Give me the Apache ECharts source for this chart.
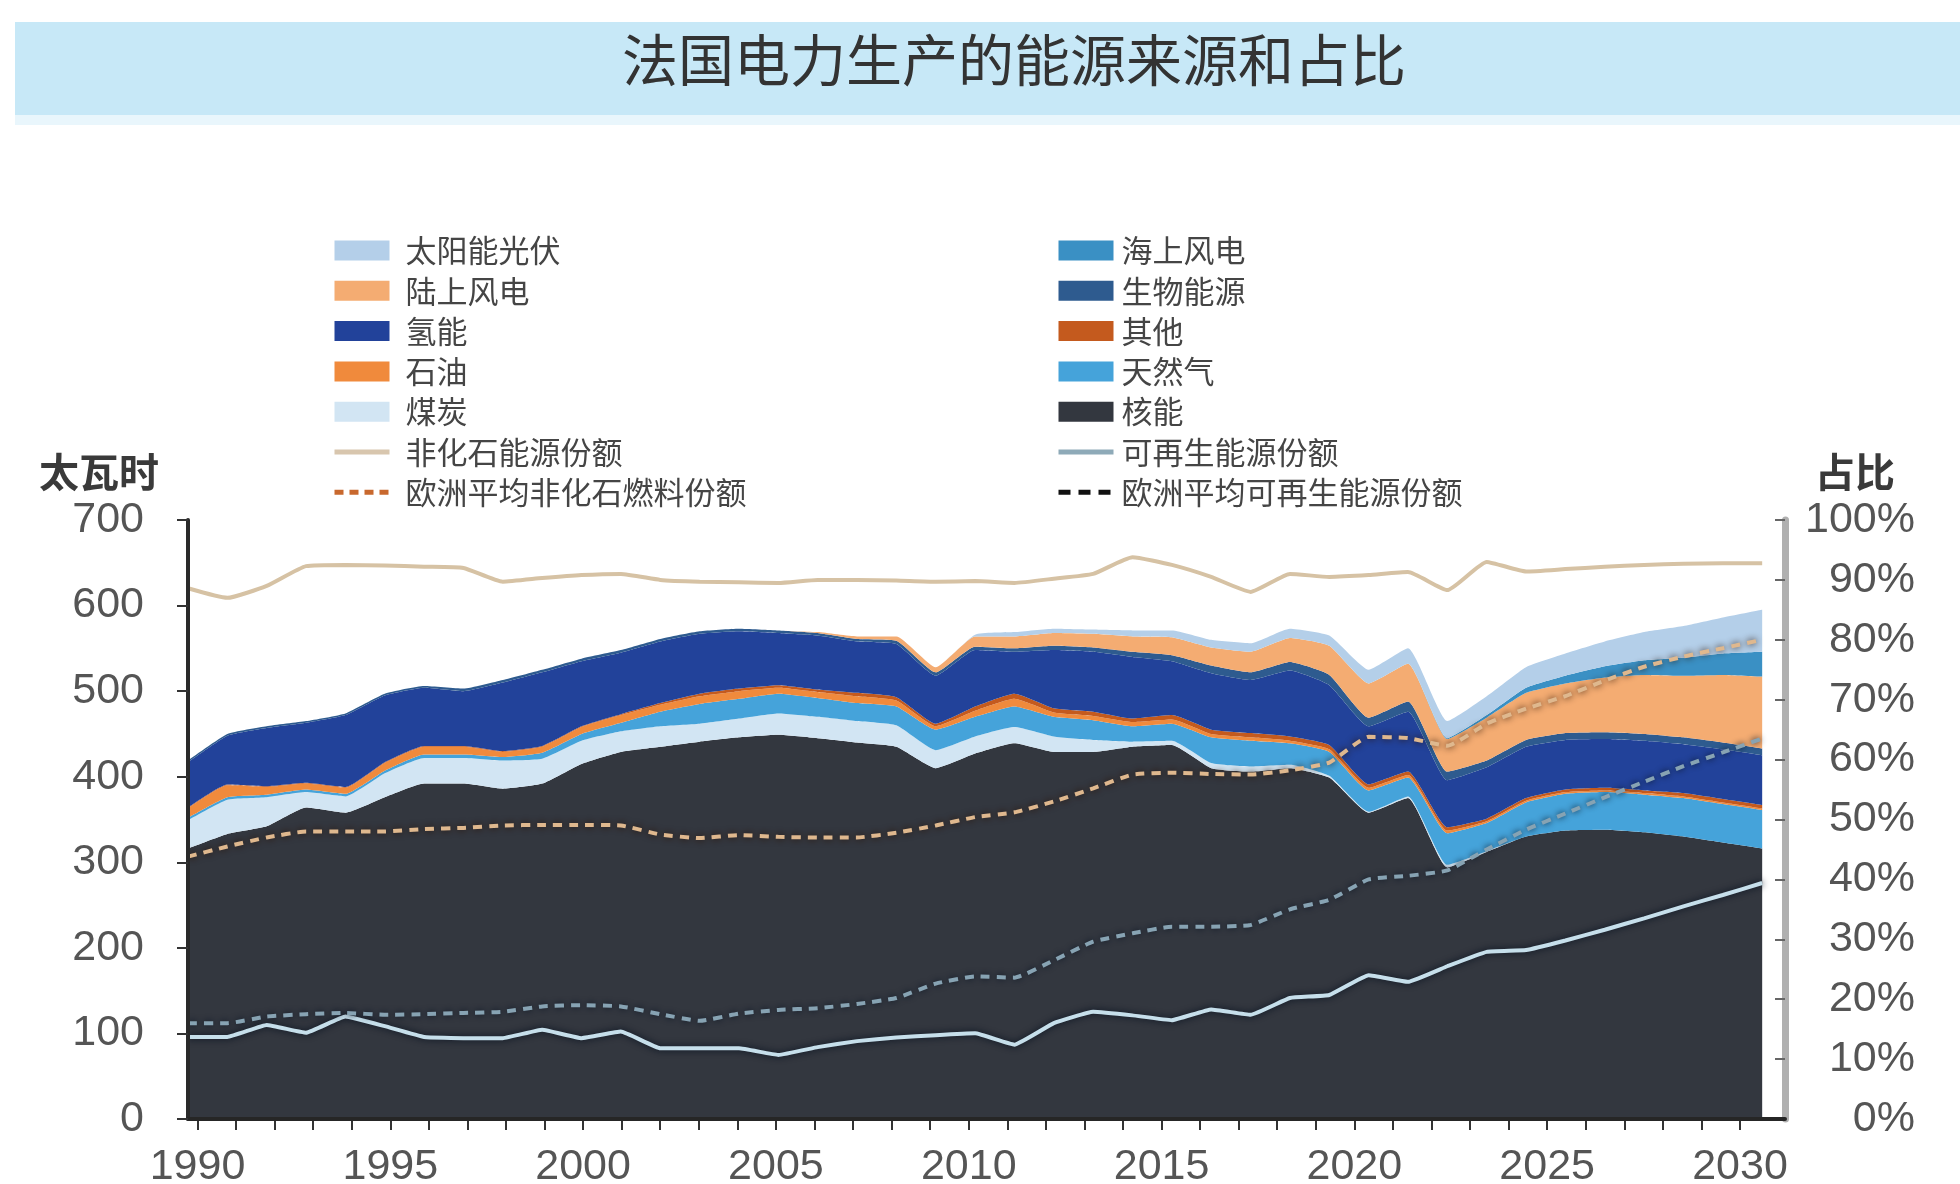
<!DOCTYPE html>
<html><head><meta charset="utf-8">
<script src="https://cdn.jsdelivr.net/npm/echarts@6/dist/echarts.min.js"></script>
<style>html,body{margin:0;padding:0;background:#fff}#c{width:1960px;height:1184px}</style>
</head><body><div id="c"></div>
<script>
const years = [1990,1991,1992,1993,1994,1995,1996,1997,1998,1999,2000,2001,2002,2003,2004,2005,2006,2007,2008,2009,2010,2011,2012,2013,2014,2015,2016,2017,2018,2019,2020,2021,2022,2023,2024,2025,2026,2027,2028,2029,2030];
const tickYears = [1990,1991,1992,1993,1994,1995,1996,1997,1998,1999,2000,2001,2002,2003,2004,2005,2006,2007,2008,2009,2010,2011,2012,2013,2014,2015,2016,2017,2018,2019,2020,2021,2022,2023,2024,2025,2026,2027,2028,2029,2030];
const labelYears = [1990,1995,2000,2005,2010,2015,2020,2025,2030];
const leftTicks = [0,100,200,300,400,500,600,700];

// TWh, stacked from bottom
const nuclear  = [316,333,342,364,358,376,392,392,386,392, 415,429,435,441,446,449,445,440,435,410, 427,439,429,429,435,437,410,406,410,399, 358,375,294,312,330,337,338,335,330,323,316];
const coal     = [33,40,34,18,19,28,30,30,33,29, 27,24,24,21,22,25,25,25,25,21, 20,19,18,14,6,5,6,6,4,2, 1,2,3,1,0,0,0,0,0,0,0];
const gas      = [3,3,3,3,3,3,4,4,4,7, 8,10,17,23,23,23,22,21,22,24, 23,24,23,23,18,20,30,30,25,28, 25,22,37,33,40,43,44,44,45,45,45];
const oil      = [11,14,9,7,7,9,9,9,6,7, 8,9,8,9,9,7,7,8,7,4, 7,9,5,5,5,5,4,4,3,3, 3,3,3,2,2,2,2,2,2,2,2];
const other    = [1,1,1,1,1,1,1,1,1,1, 1,1,2,3,3,3,3,4,4,3, 5,6,5,5,4,5,5,5,5,5, 4,4,4,3,3,3,3,3,4,4,4];
const hydro    = [53,57,68,70,84,78,68,64,80,86, 76,72,72,70,67,61,63,60,62,56, 66,49,68,70,72,63,66,62,77,70, 68,70,55,60,60,58,57,58,57,58,58];
const bio      = [2,2,2,2,2,2,2,3,3,3, 3,3,3,3,3,3,3,3,4,4, 4,4,5,5,6,7,9,9,10,12, 10,12,10,8,8,8,8,8,8,8,8];
const onshore  = [0,0,0,0,0,0,0,0,0,0, 0,0,0,0,0,0,1,3,5,6, 12,14,15,16,18,21,21,24,28,34, 40,44,38,50,55,58,64,69,72,79,84];
const offshore = [0,0,0,0,0,0,0,0,0,0, 0,0,0,0,0,0,0,0,0,0, 0,0,0,0,0,0,0,0,0,0, 0,0,1,3,6,9,13,17,21,25,29];
const solar    = [0,0,0,0,0,0,0,0,0,0, 0,0,0,0,0,0,0,0,0,0, 2,5,5,5,7,8,9,10,11,12, 16,18,20,22,24,26,29,33,37,42,49];

// shares, %
const nonFossilShare = [88.6,87.0,89.0,92.3,92.5,92.4,92.2,92.0,89.7,90.3, 90.8,91.0,90.0,89.7,89.6,89.5,90.0,90.0,89.9,89.7, 89.8,89.5,90.2,91.0,93.8,92.5,90.5,88.0,91.0,90.5, 90.8,91.3,88.3,93.0,91.4,91.8,92.2,92.5,92.7,92.8,92.8];
const renewShare     = [13.7,13.7,15.7,14.4,17.1,15.5,13.7,13.5,13.5,14.9, 13.5,14.6,11.8,11.8,11.8,10.7,12.0,13.0,13.6,14.0, 14.3,12.4,16.0,17.9,17.3,16.5,18.3,17.4,20.2,20.7, 24.0,22.9,25.5,27.9,28.2,29.8,31.6,33.5,35.5,37.4,39.4];
const euNonFossil    = [43.8,45.5,47.0,48.0,48.0,48.0,48.4,48.6,49.0,49.1, 49.1,49.0,47.5,46.9,47.4,47.1,47.0,47.0,47.8,49.0, 50.4,51.2,53.0,55.2,57.5,57.8,57.6,57.5,58.2,59.5, 63.8,63.6,62.3,66.0,68.5,70.6,73.2,75.5,77.2,78.6,80.0];
const euRenew        = [16.0,16.0,17.1,17.5,17.7,17.4,17.5,17.7,17.9,18.8, 19.0,18.8,17.5,16.4,17.6,18.2,18.5,19.2,20.2,22.6, 23.8,23.6,26.5,29.6,31.0,32.1,32.1,32.4,35.0,36.6, 40.0,40.6,41.5,45.0,48.3,51.0,53.7,56.3,58.9,61.2,63.5];

const areas = [
  ['核能', nuclear, '#33373f'],
  ['煤炭', coal, '#d2e5f3'],
  ['天然气', gas, '#45a3da'],
  ['石油', oil, '#f08a3c'],
  ['其他', other, '#c45a1e'],
  ['氢能', hydro, '#22429a'],
  ['生物能源', bio, '#2e5b8f'],
  ['陆上风电', onshore, '#f4ac72'],
  ['海上风电', offshore, '#3a90c4'],
  ['太阳能光伏', solar, '#b4cfe9']
];
// value first, year second -> stacking happens on the value dimension
const pairVY = arr => years.map((y,i)=>[arr[i], y]);

const series = areas.map(([name, arr, c]) => ({
  name, type:'line', stack:'total', xAxisIndex:0, yAxisIndex:0,
  data: pairVY(arr), encode:{x:1, y:0}, symbol:'none', showSymbol:false, smooth:0.15,
  itemStyle:{color:c}, lineStyle:{width:0, color:c}, areaStyle:{color:c, opacity:1}, z:2
}));
const lineSeries = (name, arr, extra) => Object.assign({
  name, type:'line', xAxisIndex:0, yAxisIndex:1, data:pairVY(arr), encode:{x:1, y:0},
  symbol:'none', showSymbol:false, smooth:0.15, z:5}, extra);
series.push(
  lineSeries('非化石能源份额', nonFossilShare, {itemStyle:{color:'#d6c2a4'}, lineStyle:{color:'#d6c2a4', width:4}}),
  lineSeries('可再生能源份额', renewShare, {smooth:0.1, itemStyle:{color:'#c6dfeb'}, lineStyle:{color:'#c6dfeb', width:4, shadowColor:'rgba(5,15,30,0.95)', shadowBlur:7}}),
  lineSeries('欧洲平均非化石燃料份额', euNonFossil, {itemStyle:{color:'#dfb88e'}, lineStyle:{color:'#dfb88e', width:4, type:[9,7], shadowColor:'rgba(40,18,6,0.95)', shadowBlur:7}}),
  lineSeries('欧洲平均可再生能源份额', euRenew, {itemStyle:{color:'#87a3b3'}, lineStyle:{color:'#87a3b3', width:4, type:[9,7], shadowColor:'rgba(10,20,35,0.9)', shadowBlur:6}})
);

const legendText = {fontSize:31, lineHeight:31, color:'#454545', fontFamily:'Noto Sans CJK SC'};
const lg = (name, extra) => Object.assign({name}, extra || {icon:'rect'});
const lgLine = (name, ls) => ({name, itemStyle:{opacity:0}, lineStyle:Object.assign({width:5, shadowBlur:0, shadowColor:'transparent'}, ls)});
const chart = echarts.init(document.getElementById('c'), null, {renderer:'canvas'});
chart.setOption({
  animation:false,
  backgroundColor:'#ffffff',
  graphic:[
    {type:'rect', shape:{x:15, y:22, width:1945, height:93}, style:{fill:'#c7e8f7'}, z:0},
    {type:'rect', shape:{x:15, y:115, width:1945, height:10}, style:{fill:'#e9f6fc'}, z:0},
    {type:'text', x:1014, y:60, style:{text:'法国电力生产的能源来源和占比', fontSize:56, fill:'#333333', fontFamily:'Noto Sans CJK SC', align:'center', verticalAlign:'middle'}, z:1},
    {type:'text', x:99, y:472, style:{text:'太瓦时', fontSize:40, fontWeight:'bold', fill:'#3a3a3a', fontFamily:'Noto Sans CJK SC', align:'center', verticalAlign:'middle'}},
    {type:'text', x:1855, y:472, style:{text:'占比', fontSize:40, fontWeight:'bold', fill:'#3a3a3a', fontFamily:'Noto Sans CJK SC', align:'center', verticalAlign:'middle'}}
  ],
  legend:[
    {orient:'vertical', left:327, top:230, itemWidth:55, itemHeight:20, itemGap:9.3,
     textStyle:Object.assign({padding:[0,0,0,11]}, legendText), selectedMode:false,
     data:[lg('太阳能光伏'), lg('陆上风电'), lg('氢能'), lg('石油'), lg('煤炭'),
       lgLine('非化石能源份额', {color:'#d8c6ae'}),
       lgLine('欧洲平均非化石燃料份额', {color:'#c8682e', type:[9,6]})]},
    {orient:'vertical', left:1051, top:230, itemWidth:55, itemHeight:20, itemGap:9.3,
     textStyle:Object.assign({padding:[0,0,0,3]}, legendText), selectedMode:false,
     data:[lg('海上风电'), lg('生物能源'), lg('其他'), lg('天然气'), lg('核能'),
       lgLine('可再生能源份额', {color:'#8eaab8'}),
       lgLine('欧洲平均可再生能源份额', {color:'#111111', type:[12,8]})]}
  ],
  grid:{left:188, right:175, top:520, bottom:65, containLabel:false, outerBoundsMode:'none'},
  xAxis:[
    {type:'value', min:1990, max:2030.58, position:'bottom',
     axisLine:{show:true, lineStyle:{color:'#262626', width:4}}, axisTick:{show:false}, axisLabel:{show:false}, splitLine:{show:false}, z:6},
    {type:'value', min:1989.754, max:2031.167, position:'bottom',
     axisLine:{show:false}, splitLine:{show:false},
     axisTick:{show:true, customValues:tickYears, length:11, lineStyle:{color:'#333', width:2}},
     axisLabel:{show:true, customValues:labelYears, margin:27, fontSize:43, color:'#555', fontFamily:'Liberation Sans', formatter:v=>String(v)}}
  ],
  yAxis:[
    {type:'value', min:0, max:700, position:'left',
     axisLine:{show:true, lineStyle:{color:'#2a2a2a', width:4}},
     axisTick:{show:true, customValues:leftTicks, length:11, lineStyle:{color:'#333', width:2}},
     axisLabel:{customValues:leftTicks, margin:44, fontSize:43, color:'#555', fontFamily:'Liberation Sans'},
     splitLine:{show:false}, z:6},
    {type:'value', min:0, max:100, interval:10, position:'right',
     axisLine:{show:true, lineStyle:{color:'#b0b0b0', width:7}},
     axisTick:{show:true, inside:true, length:10, lineStyle:{color:'#666', width:2}},
     axisLabel:{margin:130, align:'right', fontSize:43, color:'#555', fontFamily:'Liberation Sans', formatter:'{value}%'},
     splitLine:{show:false}}
  ],
  series
});
</script>
</body></html>
